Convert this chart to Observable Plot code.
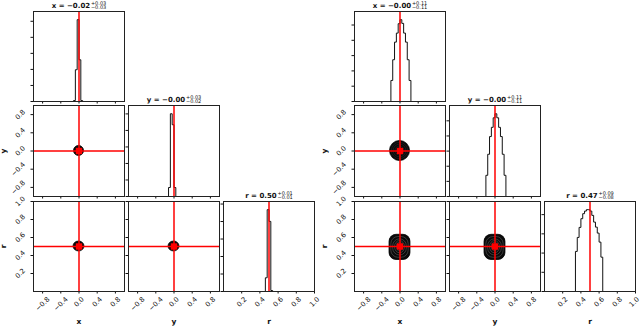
<!DOCTYPE html>
<html><head><meta charset="utf-8">
<script src="https://cdn.jsdelivr.net/npm/d3@7"></script>
<script src="https://cdn.jsdelivr.net/npm/@observablehq/plot@0.6"></script>
<style>
body{margin:0;background:#fff;}
#fig{position:relative;width:640px;height:326px;overflow:hidden;background:#fff;font-family:"DejaVu Sans",sans-serif;}
#fig svg{position:absolute;}
</style></head><body><div id="fig"></div>
<script>
// ---------------- data ----------------
const params = ["x", "y", "r"];
const truths = [0.0, 0.0, 0.5];
const ranges = [[-1, 1], [-1, 1], [0, 1]];
const xyTicks = [-0.8, -0.4, 0.0, 0.4, 0.8];
const rTicks = [0.2, 0.4, 0.6, 0.8, 1.0];
const countTicks = [0, 1000, 2000, 3000, 4000, 5000];

// left corner: histograms (bin start, bin width, counts)
const leftXStart = -0.12, leftXWidth = 0.04, leftXCounts = [60, 1980, 5100, 2600, 60];
const leftYStart = -0.12, leftYWidth = 0.04, leftYCounts = [543, 5008, 4344, 543];
const leftRStart = 0.46, leftRWidth = 0.02, leftRCounts = [784, 4677, 4007, 57];
// right corner
const rightXStart = -0.20, rightXWidth = 0.04, rightXCounts = [1375, 2730, 3882, 4471, 5086, 5348, 5106, 4471, 3882, 2730, 1375];
const rightYStart = -0.20, rightYWidth = 0.04, rightYCounts = [1400, 2790, 3960, 4570, 5200, 5466, 5200, 4570, 3960, 2790, 1400];
const rightRStart = 0.34, rightRWidth = 0.02, rightRCounts = [2085, 2814, 3336, 3789, 4050, 4185, 4258, 4258, 4185, 3961, 3612, 3351, 3039, 2570, 1788];

// titles
const leftTitleMain = ["x = \u22120.02", "y = \u22120.00", "r = 0.50"];
const leftTitleUp = ["+0.03", "+0.03", "+0.01"];
const leftTitleDown = ["\u22120.03", "\u22120.02", "\u22120.01"];
const rightTitleMain = ["x = \u22120.00", "y = \u22120.00", "r = 0.47"];
const rightTitleUp = ["+0.11", "+0.11", "+0.09"];
const rightTitleDown = ["\u22120.11", "\u22120.11", "\u22120.08"];

// contour extents [x1, x2, y1, y2] from outermost to innermost
const leftContourYX = [[-0.11, 0.11, -0.11, 0.11]];
const leftContourRX = [[-0.12, 0.12, 0.445, 0.555]];
const leftContourRY = [[-0.12, 0.12, 0.445, 0.555]];
const rightContourYX = [[-0.22, 0.22, -0.22, 0.22], [-0.18, 0.18, -0.18, 0.18], [-0.14, 0.14, -0.14, 0.14], [-0.10, 0.10, -0.10, 0.10], [-0.06, 0.06, -0.06, 0.06]];
const rightContourRX = [[-0.23, 0.23, 0.35, 0.63], [-0.19, 0.19, 0.375, 0.605], [-0.15, 0.15, 0.40, 0.58], [-0.11, 0.11, 0.425, 0.56], [-0.07, 0.07, 0.45, 0.54]];
const rightContourRY = [[-0.23, 0.23, 0.35, 0.63], [-0.19, 0.19, 0.375, 0.605], [-0.15, 0.15, 0.40, 0.58], [-0.11, 0.11, 0.425, 0.56], [-0.07, 0.07, 0.45, 0.54]];

// ---------------- layout ----------------
const leftCols = [33, 128, 223];
const rightCols = [354, 449, 544];
const rowTops = [11, 105, 201];
const rowHs = [90, 91, 90];
const colW = 91;
const FIGW = 640;
const M = {l: 44, r: 8, t: 16, b: 38};
const INK = "#111";
const RED = "#ff0000";

const fig = document.getElementById("fig");
const ctx = document.createElement("canvas").getContext("2d");
function tw(s, font) { ctx.font = font; return ctx.measureText(s).width; }
const fmt = d => d.toFixed(1).replace("-", "\u2212");
const TICKFONT = 6.8;

function xLabelMarks(ticks, left, w, domain) {
  return ticks.map(t => {
    const side = (tw(fmt(t), TICKFONT + "px 'DejaVu Sans'") + 0.85 * TICKFONT) * Math.SQRT1_2;
    const cx = left + (t - domain[0]) / (domain[1] - domain[0]) * w;
    const over = cx + side / 2 - (FIGW - 0.5);
    return Plot.text([t], {x: d => d, frameAnchor: "bottom", text: fmt, rotate: -45,
      textAnchor: "middle", lineAnchor: "middle", dx: over > 0 ? -over : 0, dy: 4.6 + side / 2, fontSize: TICKFONT, fill: INK});
  });
}
function yLabelMarks(ticks) {
  return ticks.map(t => {
    const side = (tw(fmt(t), TICKFONT + "px 'DejaVu Sans'") + 0.85 * TICKFONT) * Math.SQRT1_2;
    return Plot.text([t], {y: d => d, frameAnchor: "left", text: fmt, rotate: -45,
      textAnchor: "middle", lineAnchor: "middle", dx: -(7.4 + side / 2), fontSize: TICKFONT, fill: INK});
  });
}
function titleMarks(main, up, down) {
  const Wm = tw(main, "bold 7px 'DejaVu Sans'");
  const Ws = Math.max(tw(up, "5px 'DejaVu Sans'"), tw(down, "5px 'DejaVu Sans'"));
  const total = Wm + 0.8 + Ws;
  const x0 = -total / 2;
  return [
    Plot.text([main], {frameAnchor: "top", text: d => d, textAnchor: "start", lineAnchor: "bottom", dx: x0, dy: -3.2, fontSize: 7, fontWeight: "bold", fill: INK}),
    Plot.text([up], {frameAnchor: "top", text: d => d, textAnchor: "start", lineAnchor: "bottom", dx: x0 + Wm + 0.8, dy: -7, fontSize: 5, fill: INK}),
    Plot.text([down], {frameAnchor: "top", text: d => d, textAnchor: "start", lineAnchor: "bottom", dx: x0 + Wm + 0.8, dy: -2.4, fontSize: 5, fill: INK})
  ];
}
function histLine(start, width, counts, domain) {
  const pts = [{x: domain[0], y: 0}, {x: start, y: 0}];
  counts.forEach((c, i) => { pts.push({x: start + i * width, y: c}, {x: start + (i + 1) * width, y: c}); });
  pts.push({x: start + counts.length * width, y: 0}, {x: domain[1], y: 0});
  return pts;
}
function contourMarks(levels, rx, inner) {
  const rows = levels.map(([x1, x2, y1, y2], i) => ({x1, x2, y1, y2, i}));
  return [
    Plot.rect(rows.slice(0, 1), {x1: "x1", x2: "x2", y1: "y1", y2: "y2", fill: "#0a0a0a", stroke: "#000", strokeWidth: 0.8, rx}),
    Plot.rect(rows.slice(1), {x1: "x1", x2: "x2", y1: "y1", y2: "y2", fill: "none", stroke: inner, strokeWidth: 0.5, rx})
  ];
}
const ticksFor = k => (k === 2 ? rTicks : xyTicks);

function panel(left, top, w, h, o) {
  const svg = Plot.plot({
    width: w + M.l + M.r, height: h + M.t + M.b,
    marginLeft: M.l, marginRight: M.r, marginTop: M.t, marginBottom: M.b,
    style: {background: "transparent", overflow: "visible", color: INK, fontFamily: "'DejaVu Sans'", fontSize: "6.5px"},
    x: {domain: o.xd, ticks: o.xt, tickSize: 2.5, tickFormat: () => "", label: null},
    y: {domain: o.yd, ticks: o.yt, tickSize: 2.5, tickFormat: () => "", label: null},
    marks: [
      ...o.marks,
      Plot.frame({stroke: "#222", strokeWidth: 1}),
      ...(o.xlab ? xLabelMarks(o.xt, left, w, o.xd) : []),
      ...(o.ylab ? yLabelMarks(o.yt) : []),
      ...(o.bottomName ? [Plot.text([o.bottomName], {frameAnchor: "bottom", text: d => d, lineAnchor: "bottom", dy: 32.3, fontSize: 7.5, fontWeight: "bold", fill: INK})] : []),
      ...(o.leftName ? [Plot.text([o.leftName], {frameAnchor: "left", text: d => d, rotate: -90, textAnchor: "middle", lineAnchor: "middle", dx: -29.5, fontSize: 7.5, fontWeight: "bold", fill: INK})] : [])
    ]
  });
  svg.style.left = (left - M.l) + "px";
  svg.style.top = (top - M.t) + "px";
  fig.appendChild(svg);
}

function corner(cols, hists, contours, tMain, tUp, tDown) {
  for (let i = 0; i < 3; i++) {
    for (let j = 0; j <= i; j++) {
      const left = cols[j], top = rowTops[i], h = rowHs[i];
      if (i === j) {
        const [start, width, counts] = hists[i];
        const ymax = 1.1 * d3.max(counts);
        panel(left, top, colW, h, {
          xd: ranges[i], yd: [0, ymax], xt: ticksFor(i), yt: countTicks.filter(t => t <= ymax),
          xlab: i === 2, ylab: false, bottomName: i === 2 ? params[i] : null,
          marks: [
            Plot.line(histLine(start, width, counts, ranges[i]), {x: "x", y: "y", stroke: INK, strokeWidth: 1}),
            Plot.ruleX([truths[i]], {stroke: RED, strokeWidth: 1.5}),
            ...titleMarks(tMain[i], tUp[i], tDown[i])
          ]
        });
      } else {
        const c = contours[i + "" + j];
        panel(left, top, colW, h, {
          xd: ranges[j], yd: ranges[i], xt: ticksFor(j), yt: ticksFor(i),
          xlab: i === 2, ylab: j === 0,
          bottomName: i === 2 ? params[j] : null, leftName: j === 0 ? params[i] : null,
          marks: [
            ...contourMarks(c.levels, c.rx, c.inner),
            Plot.ruleX([truths[j]], {stroke: RED, strokeWidth: 1.5}),
            Plot.ruleY([truths[i]], {stroke: RED, strokeWidth: 1.5}),
            Plot.dot([{x: truths[j], y: truths[i]}], {x: "x", y: "y", symbol: "square", r: 3.6, fill: RED, stroke: "none"})
          ]
        });
      }
    }
  }
}

corner(leftCols,
  [[leftXStart, leftXWidth, leftXCounts], [leftYStart, leftYWidth, leftYCounts], [leftRStart, leftRWidth, leftRCounts]],
  {"10": {levels: leftContourYX, rx: 100, inner: "#333"}, "20": {levels: leftContourRX, rx: 100, inner: "#333"}, "21": {levels: leftContourRY, rx: 100, inner: "#333"}},
  leftTitleMain, leftTitleUp, leftTitleDown);
corner(rightCols,
  [[rightXStart, rightXWidth, rightXCounts], [rightYStart, rightYWidth, rightYCounts], [rightRStart, rightRWidth, rightRCounts]],
  {"10": {levels: rightContourYX, rx: 100, inner: "#2e2e2e"}, "20": {levels: rightContourRX, rx: 7, inner: "#6a6a6a"}, "21": {levels: rightContourRY, rx: 7, inner: "#6a6a6a"}},
  rightTitleMain, rightTitleUp, rightTitleDown);
</script></body></html>
